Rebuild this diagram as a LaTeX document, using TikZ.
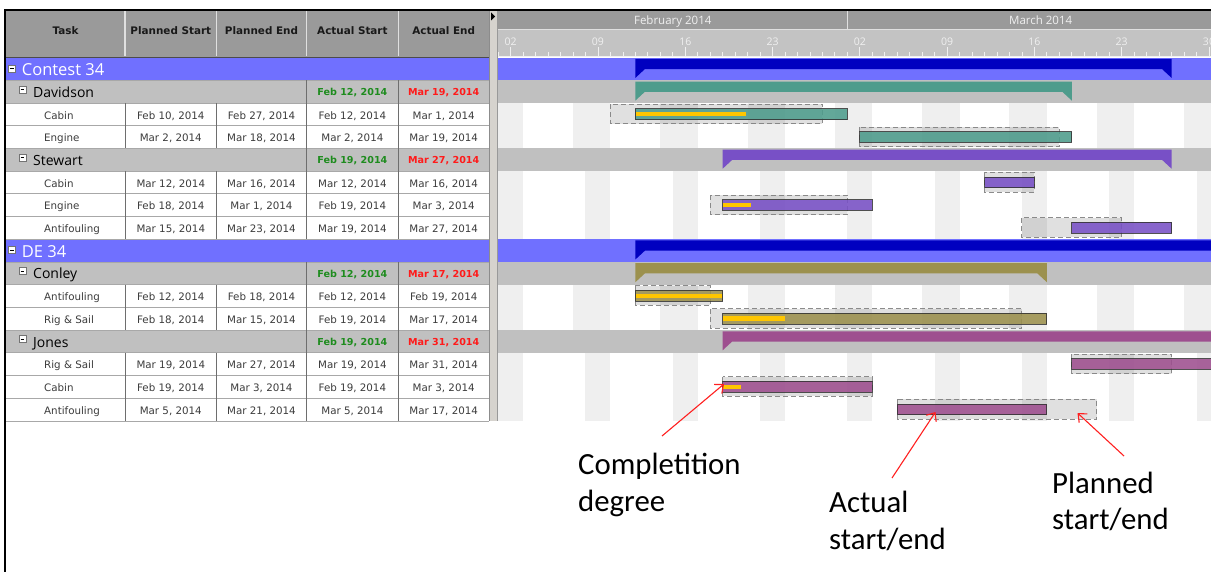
\documentclass[tikz,border=0pt]{standalone}
\usepackage{fontspec}
\setmainfont{DejaVu Sans}
\newfontfamily\uifont{Open Sans}
\newfontfamily\notefont{Carlito}
\usetikzlibrary{arrows.meta}

\definecolor{hdrGray}{HTML}{9A9A9A}
\definecolor{dayGray}{HTML}{C3C3C3}
\definecolor{rowBlue}{HTML}{7070FF}
\definecolor{groupGray}{HTML}{C0C0C0}
\definecolor{weekend}{HTML}{EFEFEF}
\definecolor{cellText}{HTML}{3C3C3C}
\definecolor{gridLine}{HTML}{A8A8A8}
\definecolor{colLine}{HTML}{6E6E6E}
\definecolor{tickLight}{HTML}{F0F0F0}
\definecolor{startGreen}{HTML}{1E8C1E}
\definecolor{endRed}{HTML}{FF1A1A}
\definecolor{barBlue}{HTML}{0000C0}
\definecolor{barTeal}{HTML}{4E9C8C}
\definecolor{barPurple}{HTML}{7850C6}
\definecolor{barOlive}{HTML}{9C914E}
\definecolor{barMagenta}{HTML}{9E4F8F}
\definecolor{doneYellow}{HTML}{FFC600}
\definecolor{noteRed}{HTML}{FF2020}
\definecolor{splitter}{HTML}{D6D3CE}

% row top edge and day position (Feb 1, 2014 = day 0)
\newcommand\rowT[1]{(57.7+22.7*(#1))}
\newcommand\dayX[1]{(498.2+12.47*(#1))}

% table rows
\newcommand\taskrow[6]{%
  \node[taskname] (n#1)  at (44,{\rowT{#1}+16}) {#2};
  \node[cell]     (ps#1) at (170.8,{\rowT{#1}+16}) {#3};
  \node[cell]     (pe#1) at (261.5,{\rowT{#1}+16}) {#4};
  \node[cell]     (as#1) at (352.4,{\rowT{#1}+16}) {#5};
  \node[cell]     (ae#1) at (443.7,{\rowT{#1}+16}) {#6};
}
\newcommand\grouprow[4]{%
  \filldraw[iconbox] (19,{\rowT{#1}+5.6}) rectangle (26,{\rowT{#1}+12.6});
  \draw[iconminus] (20.6,{\rowT{#1}+9.1}) -- (24.4,{\rowT{#1}+9.1});
  \node[grpname]   (g#1)  at (33,{\rowT{#1}+17}) {#2};
  \node[startdate] (gs#1) at (352.4,{\rowT{#1}+15.4}) {#3};
  \node[enddate]   (ge#1) at (443.7,{\rowT{#1}+15.4}) {#4};
}
\newcommand\toprow[2]{%
  \filldraw[iconbox] (8.3,{\rowT{#1}+7.2}) rectangle (15.5,{\rowT{#1}+14.2});
  \draw[iconminus] (9.9,{\rowT{#1}+10.7}) -- (13.9,{\rowT{#1}+10.7});
  \node[topname] (t#1) at (21.7,{\rowT{#1}+18.3}) {#2};
}

% gantt bars
\newcommand\summarybar[4]{%
  \fill[#4] ({\dayX{#2}},{\rowT{#1}+1.2}) -- ({\dayX{#3}},{\rowT{#1}+1.2})
    -- ({\dayX{#3}},{\rowT{#1}+20.2}) -- ({\dayX{#3}-9.5},{\rowT{#1}+11.4})
    -- ({\dayX{#2}+9.5},{\rowT{#1}+11.4}) -- ({\dayX{#2}},{\rowT{#1}+20.2}) -- cycle;
}
\newcommand\plannedbox[3]{%
  \filldraw[planbox] ({\dayX{#2}},{\rowT{#1}+1.2}) rectangle ({\dayX{#3}},{\rowT{#1}+20.8});
}
\newcommand\actualbar[4]{%
  \filldraw[actbar, fill=#4] ({\dayX{#2}},{\rowT{#1}+5.8}) rectangle ({\dayX{#3}},{\rowT{#1}+16.6});
}
\newcommand\donepart[3]{%
  \fill[doneYellow] ({\dayX{#2}+0.8},{\rowT{#1}+9.1}) rectangle ({\dayX{#3}},{\rowT{#1}+13.3});
}
% weekend shading between two row indices
\newcommand\fridaytosunday[2]{%
  \foreach \s in {-1,6,...,55} \fill[weekend] ({\dayX{\s}},{\rowT{#1}}) rectangle ({\dayX{\s+3}},{\rowT{#2}});
}
\newcommand\weekendonly[2]{%
  \foreach \s in {0,7,...,56} \fill[weekend] ({\dayX{\s}},{\rowT{#1}}) rectangle ({\dayX{\s+2}},{\rowT{#2}});
}

\begin{document}
\begin{tikzpicture}[x=1pt,y=-1pt,
  hdr/.style={font=\bfseries\fontsize{10.4}{12}\selectfont, text=black!90, anchor=base, inner sep=0},
  cell/.style={font=\fontsize{10.3}{12}\selectfont, text=cellText, anchor=base, inner sep=0},
  taskname/.style={cell, anchor=base west},
  grpname/.style={font=\uifont\fontsize{14}{16}\selectfont, text=black, anchor=base west, inner sep=0},
  topname/.style={font=\uifont\fontsize{16.5}{18}\selectfont, text=white, anchor=base west, inner sep=0},
  startdate/.style={font=\bfseries\fontsize{9.6}{11}\selectfont, text=startGreen, anchor=base, inner sep=0},
  enddate/.style={startdate, text=endRed},
  daylabel/.style={font=\uifont\fontsize{10.5}{12}\selectfont, text=tickLight, anchor=base, inner sep=0},
  monthlabel/.style={font=\uifont\fontsize{11.5}{13}\selectfont, text=tickLight, anchor=base, inner sep=0},
  iconbox/.style={fill=white, draw=black!55, line width=0.6pt},
  iconminus/.style={draw=black, line width=0.9pt},
  hline/.style={draw=gridLine, line width=0.8pt},
  vline/.style={draw=colLine, line width=0.8pt},
  hdrsep/.style={draw=black!12, line width=1.4pt},
  tickline/.style={draw=tickLight, line width=0.8pt},
  planbox/.style={fill=black, fill opacity=0.12, draw=black!50, draw opacity=0.9,
                  line width=0.9pt, dash pattern=on 5pt off 3pt},
  actbar/.style={fill opacity=0.88, draw=black!80, draw opacity=0.85, line width=0.8pt},
  note/.style={font=\notefont\fontsize{30.8}{36.8}\selectfont, align=left, anchor=base west, inner sep=0},
  pointer/.style={draw=noteRed, line width=1.1pt, -{Straight Barb[length=7pt,width=12pt]}}
]
\useasboundingbox (0,0) rectangle (1211,572);
\fill[white] (0,0) rectangle (1211,572);

% ---------- table backgrounds ----------
\fill[hdrGray] (6,11) rectangle (489.3,57.2);
\foreach \r in {0,8} \fill[rowBlue] (6,{\rowT{\r}}) rectangle (1211,{\rowT{\r+1}});
\foreach \r in {1,4,9,12} \fill[groupGray] (6,{\rowT{\r}}) rectangle (1211,{\rowT{\r+1}});

% ---------- gantt area ----------
\begin{scope}
  \clip (497.5,11) rectangle (1211,421);
  % time scale
  \fill[hdrGray] (497.5,11) rectangle (1211,30);
  \fill[dayGray] (497.5,30) rectangle (1211,57.2);
  \draw[draw=black!12, line width=1pt] (497.5,30) -- (1211,30);
  \draw[draw=black!12, line width=1pt] ({\dayX{28}},11) -- ({\dayX{28}},30);
  \node[monthlabel] (febLabel) at ({\dayX{14}},25) {February 2014};
  \node[monthlabel] (marLabel) at ({\dayX{43.5}},25) {March 2014};
  \draw[tickline] (497.5,56.4) -- (1211,56.4);
  \foreach \d in {0,...,57} \draw[tickline] ({\dayX{\d}},52.3) -- ({\dayX{\d}},56.4);
  \foreach \d/\lab in {1/02,8/09,15/16,22/23,29/02,36/09,43/16,50/23,57/30}{
    \draw[tickline] ({\dayX{\d}},46.6) -- ({\dayX{\d}},56.4);
    \node[daylabel] (day\d) at ({\dayX{\d}},45.7) {\lab};
  }
  % non-working days per resource
  \fridaytosunday{2}{4}
  \weekendonly{5}{8}
  \fridaytosunday{10}{12}
  \weekendonly{13}{16}
  % summary bars
  \summarybar{0}{11}{54}{barBlue}
  \summarybar{1}{11}{46}{barTeal}
  \summarybar{4}{18}{54}{barPurple}
  \summarybar{8}{11}{62}{barBlue}
  \summarybar{9}{11}{44}{barOlive}
  \summarybar{12}{18}{62}{barMagenta}
  % Davidson
  \plannedbox{2}{9}{26}  \actualbar{2}{11}{28}{barTeal}   \donepart{2}{11}{19.9}
  \plannedbox{3}{29}{45} \actualbar{3}{29}{46}{barTeal}
  % Stewart
  \plannedbox{5}{39}{43} \actualbar{5}{39}{43}{barPurple}
  \plannedbox{6}{17}{28} \actualbar{6}{18}{30}{barPurple} \donepart{6}{18}{20.3}
  \plannedbox{7}{42}{50} \actualbar{7}{46}{54}{barPurple}
  % Conley
  \plannedbox{10}{11}{17} \actualbar{10}{11}{18}{barOlive} \donepart{10}{11}{17.95}
  \plannedbox{11}{17}{42} \actualbar{11}{18}{44}{barOlive} \donepart{11}{18}{23}
  % Jones
  \plannedbox{13}{46}{54} \actualbar{13}{46}{60}{barMagenta}
  \plannedbox{14}{18}{30} \actualbar{14}{18}{30}{barMagenta} \donepart{14}{18}{19.45}
  \plannedbox{15}{32}{48} \actualbar{15}{32}{44}{barMagenta}
\end{scope}

% ---------- table grid ----------
\foreach \r in {1,...,16} \draw[hline] (6,{\rowT{\r}}) -- (489.3,{\rowT{\r}});
\foreach \a/\b in {2/4,5/8,10/12,13/16}
  \foreach \x in {125,216.5,306.5,398.3}
    \draw[vline] (\x,{\rowT{\a}}) -- (\x,{\rowT{\b}});
\foreach \r in {1,4,9,12}
  \foreach \x in {306.5,398.3}
    \draw[vline] (\x,{\rowT{\r}}) -- (\x,{\rowT{\r+1}});
\foreach \x in {125,216.5,306.5,398.3} \draw[hdrsep] (\x,11) -- (\x,56.5);
\draw[draw=black!70, line width=1pt] (6,57.2) -- (489.3,57.2);

% ---------- table header ----------
\node[hdr] (hTask) at (65.5,35) {Task};
\node[hdr] (hPS)   at (170.8,35) {Planned Start};
\node[hdr] (hPE)   at (261.5,35) {Planned End};
\node[hdr] (hAS)   at (352.4,35) {Actual Start};
\node[hdr] (hAE)   at (443.7,35) {Actual End};

% ---------- table rows ----------
\toprow{0}{Contest 34}
\grouprow{1}{Davidson}{Feb 12, 2014}{Mar 19, 2014}
\taskrow{2}{Cabin}{Feb 10, 2014}{Feb 27, 2014}{Feb 12, 2014}{Mar 1, 2014}
\taskrow{3}{Engine}{Mar 2, 2014}{Mar 18, 2014}{Mar 2, 2014}{Mar 19, 2014}
\grouprow{4}{Stewart}{Feb 19, 2014}{Mar 27, 2014}
\taskrow{5}{Cabin}{Mar 12, 2014}{Mar 16, 2014}{Mar 12, 2014}{Mar 16, 2014}
\taskrow{6}{Engine}{Feb 18, 2014}{Mar 1, 2014}{Feb 19, 2014}{Mar 3, 2014}
\taskrow{7}{Antifouling}{Mar 15, 2014}{Mar 23, 2014}{Mar 19, 2014}{Mar 27, 2014}
\toprow{8}{DE 34}
\grouprow{9}{Conley}{Feb 12, 2014}{Mar 17, 2014}
\taskrow{10}{Antifouling}{Feb 12, 2014}{Feb 18, 2014}{Feb 12, 2014}{Feb 19, 2014}
\taskrow{11}{Rig \& Sail}{Feb 18, 2014}{Mar 15, 2014}{Feb 19, 2014}{Mar 17, 2014}
\grouprow{12}{Jones}{Feb 19, 2014}{Mar 31, 2014}
\taskrow{13}{Rig \& Sail}{Mar 19, 2014}{Mar 27, 2014}{Mar 19, 2014}{Mar 31, 2014}
\taskrow{14}{Cabin}{Feb 19, 2014}{Mar 3, 2014}{Feb 19, 2014}{Mar 3, 2014}
\taskrow{15}{Antifouling}{Mar 5, 2014}{Mar 21, 2014}{Mar 5, 2014}{Mar 17, 2014}

% ---------- splitter ----------
\fill[splitter] (489.3,11) rectangle (497.5,421);
\draw[draw=black!45, line width=0.8pt] (489.3,11) -- (489.3,421);
\draw[draw=black!40, line width=0.8pt] (497.3,11) -- (497.3,421);
\fill[black] (491,12.5) -- (495,16.5) -- (491,20.5) -- cycle;

% ---------- outer frame ----------
\draw[black, line width=2pt] (5,572) -- (5,10) -- (1211,10);

% ---------- callouts (base = last line) ----------
\node[note] (noteDone)    at (578,511.5)  {Completition\\degree};
\node[note] (noteActual)  at (829,549.5)  {Actual\\start/end};
\node[note] (notePlanned) at (1052,529.8) {Planned\\start/end};
\coordinate (doneTail)    at (662,436);
\coordinate (doneTip)     at (724,384);
\coordinate (actualTail)  at (892,478);
\coordinate (actualTip)   at (935.5,412);
\coordinate (plannedTail) at (1124,456);
\coordinate (plannedTip)  at (1077.5,413);
\draw[pointer] (doneTail) -- (doneTip);
\draw[pointer] (actualTail) -- (actualTip);
\draw[pointer] (plannedTail) -- (plannedTip);
\end{tikzpicture}
\end{document}
